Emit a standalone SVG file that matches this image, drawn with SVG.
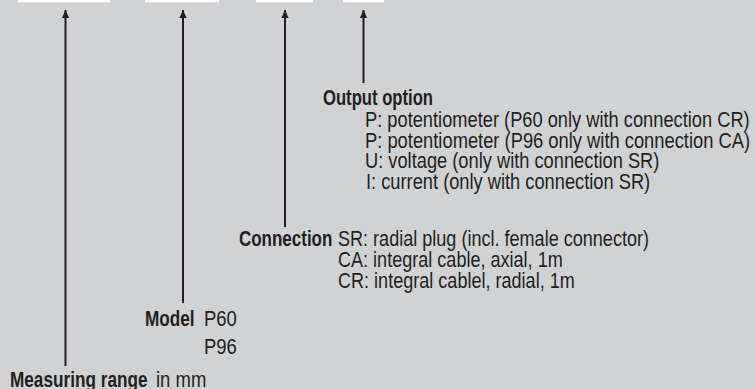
<svg xmlns="http://www.w3.org/2000/svg" width="755" height="389" viewBox="0 0 755 389">
<defs>
<style>
.t{font-family:"Liberation Sans",Arial,sans-serif;font-size:21.5px;fill:#231f20}
.b{font-weight:bold}
.ln{stroke:#231f20;stroke-width:2;fill:none}
.bar{fill:#ffffff}
</style>
<marker id="ah" viewBox="0 0 8 8" refX="8" refY="4" markerWidth="8" markerHeight="8" markerUnits="userSpaceOnUse" orient="auto">
<path d="M0,0.4 L8,4 L0,7.6 Z" fill="#231f20"/>
</marker>
</defs>
<rect x="0" y="0" width="755" height="389" fill="#d1d2d4"/>
<g id="fields">
<rect class="bar" x="18" y="0" width="92" height="2.3"/>
<rect class="bar" x="145" y="0" width="74" height="2.3"/>
<rect class="bar" x="256" y="0" width="57" height="2.3"/>
<rect class="bar" x="343" y="0" width="41" height="2.3"/>
</g>
<g id="connectors">
<path class="ln" d="M65.5,366 V10" marker-end="url(#ah)"/>
<path class="ln" d="M183,303 V10" marker-end="url(#ah)"/>
<path class="ln" d="M285,227 V10" marker-end="url(#ah)"/>
<path class="ln" d="M363.5,83 V10" marker-end="url(#ah)"/>
</g>
<g id="output-option">
<text class="t b" transform="translate(323,105) scale(0.775,1)">Output option</text>
<text class="t" transform="translate(365,127) scale(0.85,1)">P: potentiometer (P60 only with connection CR)</text>
<text class="t" transform="translate(365,148) scale(0.853,1)">P: potentiometer (P96 only with connection CA)</text>
<text class="t" transform="translate(365,168) scale(0.85,1)">U: voltage (only with connection SR)</text>
<text class="t" transform="translate(366,189) scale(0.85,1)">I: current (only with connection SR)</text>
</g>
<g id="connection">
<text class="t b" transform="translate(239,246) scale(0.79,1)">Connection</text>
<text class="t" transform="translate(338,246) scale(0.84,1)">SR: radial plug (incl. female connector)</text>
<text class="t" transform="translate(338,267) scale(0.84,1)">CA: integral cable, axial, 1m</text>
<text class="t" transform="translate(338,288) scale(0.84,1)">CR: integral cablel, radial, 1m</text>
</g>
<g id="model">
<text class="t b" transform="translate(145,326) scale(0.8,1)">Model</text>
<text class="t" transform="translate(204,326) scale(0.86,1)">P60</text>
<text class="t" transform="translate(204,354) scale(0.86,1)">P96</text>
</g>
<g id="measuring-range">
<text class="t b" transform="translate(10,387) scale(0.8,1)">Measuring range</text>
<text class="t" transform="translate(156,387) scale(0.86,1)">in mm</text>
</g>
</svg>
